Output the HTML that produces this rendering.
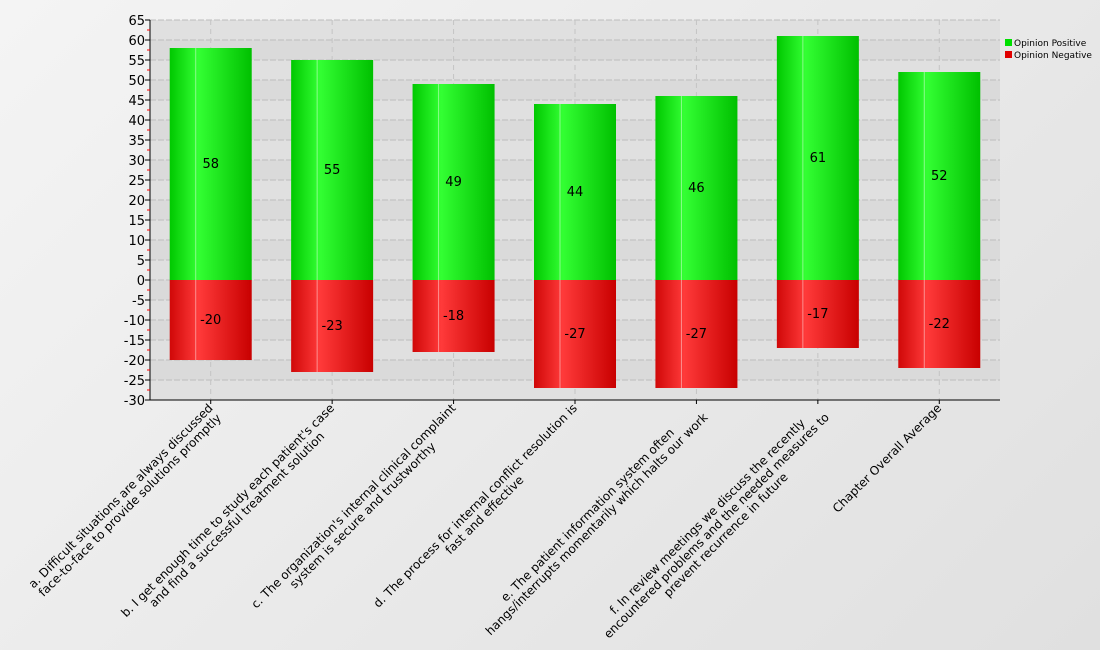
<!DOCTYPE html>
<html><head><meta charset="utf-8"><style>
html,body{margin:0;padding:0;}
body{width:1100px;height:650px;background:linear-gradient(135deg,#f4f4f4,#e0e0e0);font-family:"DejaVu Sans","Liberation Sans",sans-serif;}
svg{display:block}
</style></head><body>
<svg id="chart" width="1100" height="650" xmlns="http://www.w3.org/2000/svg">
<defs>
<linearGradient id="gpos" x1="0" x2="1" y1="0" y2="0">
<stop offset="0" stop-color="#00c800"/><stop offset="0.35" stop-color="#33ff33"/><stop offset="1" stop-color="#00c000"/></linearGradient>
<linearGradient id="gneg" x1="0" x2="1" y1="0" y2="0">
<stop offset="0" stop-color="#d00808"/><stop offset="0.35" stop-color="#ff3a3a"/><stop offset="1" stop-color="#c80000"/></linearGradient>
</defs>
<rect x="150" y="20" width="850" height="380" fill="#dadada"/>
<g id="grid"></g><g id="bars"></g><g id="axes"></g><g id="xlabels"></g>
<g font-size="9" fill="#000">
<g><rect x="1005" y="39" width="7" height="7" fill="#00e000"/><text x="1014" y="46">Opinion Positive</text></g>
<g><rect x="1005" y="51" width="7" height="7" fill="#e00000"/><text x="1014" y="58">Opinion Negative</text></g>
</g>
</svg>
<script>
const categories=[
["a. Difficult situations are always discussed","face-to-face to provide solutions promptly"],
["b. I get enough time to study each patient's case","and find a successful treatment solution"],
["c. The organization's internal clinical complaint","system is secure and trustworthy"],
["d. The process for internal conflict resolution is","fast and effective"],
["e. The patient information system often","hangs/interrupts momentarily which halts our work"],
["f. In review meetings we discuss the recently","encountered problems and the needed measures to","prevent recurrence in future"],
["Chapter Overall Average"]];
const positiveValues=[58,55,49,44,46,61,52];
const negativeValues=[-20,-23,-18,-27,-27,-17,-22];
const yTicks=[65,60,55,50,45,40,35,30,25,20,15,10,5,0,-5,-10,-15,-20,-25,-30];
const NS="http://www.w3.org/2000/svg";
const L=150,R=1000,T=20,B=400,ymin=-30,ymax=65;
const y=v=>T+(ymax-v)*(B-T)/(ymax-ymin);
const step=(R-L)/categories.length;
const xc=i=>L+step*(i+0.5);
function mk(tag,attrs,parent){const e=document.createElementNS(NS,tag);for(const k in attrs)e.setAttribute(k,attrs[k]);parent.appendChild(e);return e;}
const grid=document.getElementById('grid'),bars=document.getElementById('bars'),axes=document.getElementById('axes'),xl=document.getElementById('xlabels');
for(let i=0;i<yTicks.length-1;i++){if(i%2==0){const r=mk('rect',{x:L,y:y(yTicks[i]),width:R-L,height:y(yTicks[i+1])-y(yTicks[i]),fill:'#e0e0e0'},grid);}}
yTicks.forEach(v=>{const l=mk('line',{x1:L,x2:R,y1:y(v),y2:y(v),stroke:'#bdbdbd','stroke-dasharray':'6,2'},grid);});
categories.forEach((c,i)=>{const l=mk('line',{x1:xc(i),x2:xc(i),y1:T,y2:B,stroke:'#c4c4c4','stroke-dasharray':'5,4'},grid);});
const bw=82;
categories.forEach((c,i)=>{
 const x=xc(i)-bw/2;
 const p=mk('rect',{x:x,y:y(positiveValues[i]),width:bw,height:y(0)-y(positiveValues[i]),fill:'url(#gpos)'},bars);
 
 const n=mk('rect',{x:x,y:y(0),width:bw,height:y(negativeValues[i])-y(0),fill:'url(#gneg)'},bars);
 
 const hl=mk('line',{x1:x+26,x2:x+26,y1:y(positiveValues[i]),y2:y(negativeValues[i]),stroke:'#ffffff','stroke-opacity':0.45},bars);
 
 const t1=mk('text',{x:xc(i),y:(y(positiveValues[i])+y(0))/2+4,'text-anchor':'middle','font-size':13},bars);t1.textContent=positiveValues[i];
 
 const t2=mk('text',{x:xc(i),y:(y(negativeValues[i])+y(0))/2+4,'text-anchor':'middle','font-size':13},bars);t2.textContent=negativeValues[i];
 
});
const ya=mk('line',{x1:L,x2:L,y1:T,y2:B,stroke:'#000'},axes);
const xa=mk('line',{x1:L,x2:R,y1:B,y2:B,stroke:'#000'},axes);
yTicks.forEach((v,i)=>{
 mk('line',{x1:L-5,x2:L,y1:y(v),y2:y(v),stroke:'#000'},axes);
 if(i<yTicks.length-1){const m=mk('line',{x1:L-3,x2:L,y1:y(v-2.5),y2:y(v-2.5),stroke:'#f00'},axes);}
 const t=mk('text',{x:L-5,y:y(v)+5,'text-anchor':'end','font-size':13},axes);t.textContent=v;
 
});
categories.forEach((lines,i)=>{
 mk('line',{x1:xc(i),x2:xc(i),y1:B,y2:B+4,stroke:'#000'},axes);
 const g=mk('g',{transform:`translate(${xc(i)},${B+6}) rotate(-45)`,'font-size':12},xl);
 
 const ts=lines.map((s,j)=>{const t=mk('text',{x:0,y:4+j*13,'text-anchor':'middle'},g);t.textContent=s;return t;});
 let mw=0;ts.forEach(t=>{mw=Math.max(mw,t.getComputedTextLength());});
 ts.forEach(t=>t.setAttribute('x',-mw/2));
});
</script>
</body></html>
